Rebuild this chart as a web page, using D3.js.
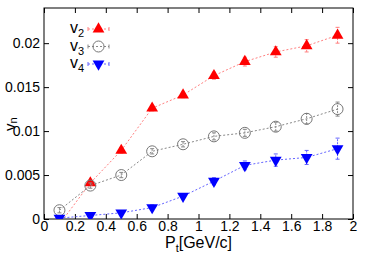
<!DOCTYPE html>
<html>
<head>
<meta charset="utf-8">
<script src="https://cdn.jsdelivr.net/npm/d3@7"></script>
<style>
  body { margin: 0; background: #fff; }
  svg text { font-family: "Liberation Sans", Arial, sans-serif; }
</style>
</head>
<body>
<div id="chart"></div>
<script>
const pt = [0.1, 0.3, 0.5, 0.7, 0.9, 1.1, 1.3, 1.5, 1.7, 1.9]

const v2 = [-0.0006, 0.0041, 0.0078, 0.0126, 0.0141, 0.0163, 0.0179, 0.0190, 0.0197, 0.0209]
const v2err = [0.0003, 0.0003, 0.0003, 0.0003, 0.0003, 0.0004, 0.0005, 0.0006, 0.0007, 0.0009]

const v3 = [0.0010, 0.0038, 0.0050, 0.0077, 0.0085, 0.0094, 0.0098, 0.0105, 0.0114, 0.0125]
const v3err = [0.0003, 0.0003, 0.0003, 0.0003, 0.0003, 0.0004, 0.0004, 0.0005, 0.0006, 0.0008]

const v4 = [0.0001, 0.0004, 0.0007, 0.0013, 0.0026, 0.0043, 0.0061, 0.0067, 0.0070, 0.0080]
const v4err = [0.0002, 0.0002, 0.0002, 0.0003, 0.0003, 0.0004, 0.0005, 0.0007, 0.0008, 0.0012]

const xTicks = [0, 0.2, 0.4, 0.6, 0.8, 1, 1.2, 1.4, 1.6, 1.8, 2]
const yTicks = [0, 0.005, 0.01, 0.015, 0.02]

const W = 366, H = 256
const margin = { left: 44, right: 13, top: 8, bottom: 37 }
const iw = W - margin.left - margin.right
const ih = H - margin.top - margin.bottom

const svg = d3.select('#chart').append('svg')
    .attr('width', W)
    .attr('height', H)

const x = d3.scaleLinear().domain([0, 2]).range([0, iw])
const y = d3.scaleLinear().domain([0, 0.024]).range([ih, 0])

const g = svg.append('g').attr('transform', `translate(${margin.left},${margin.top})`)

g.append('clipPath').attr('id', 'clip')
  .append('rect').attr('width', iw).attr('height', ih)

// axes, ticks pointing inward on all four sides
const fmtY = (d) => d === 0 ? '0' : String(+d.toFixed(3))
const fmtX = (d) => String(+d.toFixed(1))

g.append('g')
    .attr('transform', `translate(0,${ih})`)
    .call(d3.axisBottom(x).tickValues(xTicks).tickFormat(fmtX).tickSizeInner(-5).tickSizeOuter(0).tickPadding(2))
g.append('g')
    .call(d3.axisTop(x).tickValues(xTicks).tickFormat('').tickSizeInner(-5).tickSizeOuter(0))
g.append('g')
    .call(d3.axisLeft(y).tickValues(yTicks).tickFormat(fmtY).tickSizeInner(-5).tickSizeOuter(0).tickPadding(4))
g.append('g')
    .attr('transform', `translate(${iw},0)`)
    .call(d3.axisRight(y).tickValues(yTicks).tickFormat('').tickSizeInner(-5).tickSizeOuter(0))

g.selectAll('.domain').remove()
g.selectAll('.tick text').style('font-size', '14px').attr('fill', '#000')
g.selectAll('.tick line').attr('stroke', '#000')

g.append('rect')
    .attr('width', iw).attr('height', ih)
    .attr('fill', 'none').attr('stroke', '#000').attr('stroke-width', 1)

// axis titles
const xt = svg.append('text')
    .attr('x', margin.left + iw / 2)
    .attr('y', 248)
    .attr('text-anchor', 'middle')
    .style('font-size', '16px')
xt.append('tspan').text('P')
xt.append('tspan').attr('dy', 4).style('font-size', '11px').text('t')
xt.append('tspan').attr('dy', -4).text('[GeV/c]')

const yt = svg.append('text')
    .attr('transform', 'translate(15,131) rotate(-90)')
    .style('font-size', '15px')
yt.append('tspan').text('v')
yt.append('tspan').attr('dy', 2).style('font-size', '11px').text('n')

const series = [
  { name: '2', vals: v2, errs: v2err, color: '#ff0000', line: '#ff8080', marker: 'up' },
  { name: '3', vals: v3, errs: v3err, color: '#777777', line: '#888888', marker: 'circle' },
  { name: '4', vals: v4, errs: v4err, color: '#0000ff', line: '#6464ff', marker: 'down' }
]

const tri = d3.symbol().type(d3.symbolTriangle).size(60)

const drawMarker = (sel, s) => {
  if (s.marker === 'circle') {
    sel.append('circle').attr('r', 5.5)
        .attr('fill', 'none').attr('stroke', s.color).attr('stroke-width', 1)
  } else {
    sel.append('path').attr('d', tri)
        .attr('transform', s.marker === 'down' ? 'rotate(180)' : null)
        .attr('fill', s.color)
  }
}

const plot = g.append('g').attr('clip-path', 'url(#clip)')
const line = d3.line().x((d) => x(d[0])).y((d) => y(d[1]))

series.forEach((s) => {
  const pts = pt.map((p, i) => [p, s.vals[i], s.errs[i]])
  plot.append('path')
      .datum(pts)
      .attr('d', line)
      .attr('fill', 'none')
      .attr('stroke', s.line)
      .attr('stroke-width', 1)
      .attr('stroke-dasharray', '2,2')

  const eb = plot.append('g')
  pts.forEach((d) => {
    const cx = x(d[0])
    eb.append('line').attr('x1', cx).attr('x2', cx)
        .attr('y1', y(d[1] - d[2])).attr('y2', y(d[1] + d[2]))
        .attr('stroke', s.line).attr('stroke-dasharray', '2,1')
    ;[d[1] - d[2], d[1] + d[2]].forEach((v) => {
      eb.append('line').attr('x1', cx - 2).attr('x2', cx + 2)
          .attr('y1', y(v)).attr('y2', y(v)).attr('stroke', s.line)
    })
  })

  pts.forEach((d) => {
    const m = plot.append('g').attr('transform', `translate(${x(d[0])},${y(d[1])})`)
    drawMarker(m, s)
  })
})

// legend
const legend = g.append('g')
series.forEach((s, i) => {
  const ly = 21 + i * 17.5
  const t = legend.append('text').attr('x', 26).attr('y', ly + 4).style('font-size', '16px')
  t.append('tspan').text('v')
  t.append('tspan').attr('dy', 4).style('font-size', '11px').text(s.name)
  legend.append('line').attr('x1', 44).attr('x2', 65).attr('y1', ly).attr('y2', ly)
      .attr('stroke', s.line).attr('stroke-dasharray', '2,2')
  ;[44, 65].forEach((lx) => {
    legend.append('line').attr('x1', lx).attr('x2', lx).attr('y1', ly - 2).attr('y2', ly + 2)
        .attr('stroke', s.line)
  })
  const m = legend.append('g').attr('transform', `translate(54.5,${ly})`)
  drawMarker(m, s)
})
</script>
</body>
</html>
